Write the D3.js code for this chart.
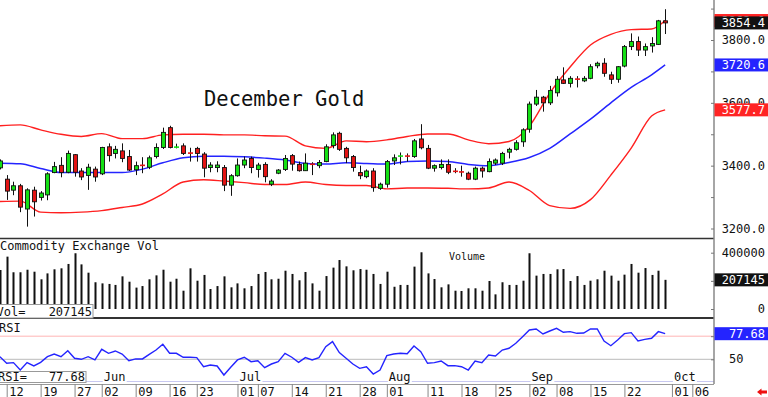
<!DOCTYPE html>
<html>
<head>
<meta charset="utf-8">
<script src="https://cdn.jsdelivr.net/npm/d3@7"></script>
<style>
body { margin: 0; background: #fff; }
svg { display: block; }
</style>
</head>
<body>
<script>
// trading calendar: weekdays from May 9 to Oct 6, minus exchange holidays
var holidays = ["2025-05-26", "2025-06-19", "2025-07-04", "2025-09-01"];
var fmt = d3.timeFormat("%Y-%m-%d");
var sessions = d3.timeDay.range(new Date(2025, 4, 9), new Date(2025, 9, 7))
    .filter(function(d) { return d.getDay() !== 0 && d.getDay() !== 6; })
    .map(fmt)
    .filter(function(d) { return holidays.indexOf(d) < 0; });

// daily OHLC, May 9 .. Sep 30
var open = [3393,3357,3322,3336,3262,3322,3299,3307,3378,3401,
    3379,3435,3383,3369,3389,3374,3460,3439,3447,3429,
    3387,3402,3395,3429,3458,3521,3458,3463,3441,3455,
    3437,3394,3394,3394,3338,3368,3402,3423,3388,3404,
    3341,3376,3388,3432,3404,3384,3406,3400,3413,3464,
    3503,3455,3429,3378,3365,3383,3328,3341,3415,3429,
    3432,3429,3485,3455,3392,3394,3404,3383,3381,3376,
    3357,3392,3381,3408,3408,3443,3452,3476,3516,3596,
    3618,3600,3632,3673,3662,3678,3670,3678,3718,3726,
    3689,3675,3717,3779,3795,3768,3781,3786,3861];
var high = [3420,3370,3349,3342,3328,3333,3319,3379,3412,3427,
    3448,3437,3392,3406,3397,3460,3471,3463,3471,3450,
    3413,3427,3432,3471,3521,3527,3470,3471,3457,3460,
    3443,3411,3414,3402,3373,3423,3429,3429,3409,3411,
    3357,3389,3434,3437,3413,3439,3411,3418,3468,3506,
    3508,3460,3434,3400,3388,3392,3346,3418,3436,3442,
    3439,3485,3532,3466,3404,3420,3420,3392,3400,3381,
    3397,3397,3423,3423,3444,3457,3481,3519,3604,3641,
    3622,3654,3685,3713,3685,3685,3685,3723,3731,3742,
    3699,3717,3784,3821,3811,3789,3809,3864,3898];
var low = [3388,3291,3306,3252,3206,3238,3289,3290,3376,3363,
    3376,3365,3354,3323,3349,3370,3413,3423,3411,3383,
    3370,3376,3389,3423,3453,3455,3455,3434,3413,3413,
    3363,3379,3379,3319,3304,3365,3392,3376,3362,3347,
    3335,3373,3383,3384,3381,3383,3370,3392,3411,3455,
    3447,3408,3381,3357,3360,3317,3323,3330,3402,3404,
    3413,3425,3452,3389,3381,3388,3373,3376,3365,3354,
    3354,3362,3379,3402,3402,3423,3448,3460,3505,3590,
    3572,3593,3620,3660,3649,3649,3666,3675,3710,3683,
    3660,3664,3713,3768,3749,3749,3760,3784,3819];
var close = [3415,3319,3336,3268,3323,3285,3313,3374,3397,3378,
    3439,3379,3364,3395,3364,3458,3432,3452,3423,3386,
    3400,3400,3425,3458,3506,3458,3460,3439,3439,3439,
    3392,3402,3402,3338,3368,3402,3418,3394,3402,3365,
    3351,3386,3423,3405,3384,3408,3403,3410,3460,3498,
    3452,3425,3394,3368,3383,3330,3341,3413,3425,3432,
    3429,3479,3457,3392,3400,3404,3379,3381,3379,3357,
    3392,3383,3413,3418,3439,3452,3473,3514,3596,3618,
    3600,3639,3675,3662,3678,3673,3678,3715,3726,3694,
    3675,3715,3779,3795,3768,3779,3789,3861,3854.4];

// volume, thousands of contracts
var volume = [277,372,261,261,279,265,211,253,282,289,
    320,396,317,258,190,182,178,171,232,194,
    152,163,211,239,279,194,215,130,289,201,
    242,142,163,232,154,182,147,163,249,263,
    211,215,272,249,204,263,182,130,234,294,
    348,303,275,284,279,249,178,265,158,171,
    171,301,403,253,213,154,175,130,128,147,
    147,130,199,104,190,171,171,201,396,237,
    249,249,282,284,199,234,171,201,211,272,
    237,201,244,320,258,291,242,272,207.145];

var rsi = [52.8,45.7,46.4,38.4,46.4,42.8,46.7,52.8,55.7,52.8,
    59.3,51.1,50,52.8,49.3,60.8,56.5,59,55.7,48.5,
    50.4,50.4,55.4,60,66.2,56.5,56.5,52.2,52.2,51.8,
    42,43.8,42.8,33,41.4,49.3,52.2,47.4,48.5,40.9,
    44.9,47.4,56.5,52.2,46.7,51.8,49.3,51.8,63.6,69.1,
    57.2,51.1,44.9,40.2,42,34.1,38.4,53.9,55.7,56.5,
    56.1,64.4,58.3,45.7,46.4,48.2,43.1,43.1,42,38.4,
    48.2,46.4,54.6,53.6,60,61.9,67.3,74.4,81.7,82.8,
    77.4,80.6,83.5,79.2,79.9,78.1,78.4,82.8,82.8,69.8,
    64.7,70.9,77.7,78.8,69.8,71.6,72.7,79.9,77.68];

// bollinger bands read every third session
var bandIdx = [0,3,6,9,12,15,18,21,24,27,30,33,36,39,42,45,48,51,54,57,60,63,66,69,72,75,78,81,84,87,90,93,96,98];
var bandUpper = [3527,3530,3514,3500,3493,3502,3486,3486,3498,3500,3500,3498,3498,3495,3494,3463,3455,3479,
    3476,3482,3493,3501,3501,3482,3470,3477,3526,3631,3714,3784,3818,3833,3835,3862];
var bandMid = [3408,3406,3391,3378,3378,3378,3378,3389,3409,3425,3430,3430,3428,3424,3418,3407,3405,3409,
    3407,3405,3413,3415,3413,3404,3400,3410,3426,3455,3501,3548,3600,3649,3689,3720.6];
var bandLower = [3286,3287,3252,3250,3252,3257,3267,3278,3310,3348,3355,3351,3346,3340,3340,3348,3340,3337,
    3337,3326,3329,3329,3328,3326,3329,3348,3321,3273,3264,3292,3370,3456,3558,3577.7];

var tickDates = ["2025-05-12","2025-05-19","2025-05-27","2025-06-02","2025-06-09","2025-06-16","2025-06-23",
    "2025-07-01","2025-07-07","2025-07-14","2025-07-21","2025-07-28","2025-08-01","2025-08-11","2025-08-18",
    "2025-08-25","2025-09-02","2025-09-08","2025-09-15","2025-09-22","2025-10-01","2025-10-06"];
var monthDates = ["2025-06-02","2025-07-01","2025-08-01","2025-09-02","2025-10-01"];
var monthNames = ["Jun","Jul","Aug","Sep","0ct"];
var priceTicks = [3200, 3400, 3600, 3800];

var FONT = "DejaVu Sans Mono, monospace";
var GREEN = "#14e014", RED = "#e41414", BLUE = "#2424ff";
var axisX = 714;

var svg = d3.select("body").append("svg")
    .attr("width", 768)
    .attr("height", 397)
    .attr("font-family", FONT);

var x = d3.scalePoint().domain(sessions).range([-0.1, 692.3]);
var yPrice = d3.scaleLinear().domain([3200, 3800]).range([228.5, 40]);
var yVol = d3.scaleLinear().domain([0, 400000]).range([309, 252.7]);
var yRsi = d3.scaleLinear().domain([50, 77.68]).range([359.3, 333.7]);

svg.append("clipPath").attr("id", "pc")
    .append("rect").attr("x", 0).attr("y", 0).attr("width", axisX).attr("height", 238);

// title
svg.append("text")
    .attr("x", 204).attr("y", 106)
    .attr("font-size", 20.5)
    .attr("fill", "#111")
    .text("December Gold");

// bands
var price = svg.append("g").attr("clip-path", "url(#pc)");
function bandLine(vals) {
    return d3.line()
        .x(function(d, i) { return x(sessions[bandIdx[i]]); })
        .y(function(d) { return yPrice(d); })
        .curve(d3.curveMonotoneX)(vals);
}
price.append("path").attr("d", bandLine(bandUpper)).attr("fill", "none").attr("stroke", "#ff2020").attr("stroke-width", 1.4);
price.append("path").attr("d", bandLine(bandLower)).attr("fill", "none").attr("stroke", "#ff2020").attr("stroke-width", 1.4);
price.append("path").attr("d", bandLine(bandMid)).attr("fill", "none").attr("stroke", BLUE).attr("stroke-width", 1.5);

// candles
var candles = price.selectAll(".candle")
    .data(close.map(function(c, i) { return i; }))
    .enter()
    .append("g")
        .attr("class", "candle");

candles.append("line")
    .attr("x1", function(i) { return Math.round(x(sessions[i])) + 0.5; })
    .attr("x2", function(i) { return Math.round(x(sessions[i])) + 0.5; })
    .attr("y1", function(i) { return yPrice(high[i]); })
    .attr("y2", function(i) { return yPrice(low[i]); })
    .attr("stroke", "#111")
    .attr("stroke-width", 1);

candles.each(function(i) {
    var g = d3.select(this);
    var cx = Math.round(x(sessions[i])) + 0.5;
    var top = yPrice(Math.max(open[i], close[i]));
    var bot = yPrice(Math.min(open[i], close[i]));
    var col = close[i] >= open[i] ? GREEN : RED;
    if (bot - top < 1.6) {
        g.append("rect")
            .attr("x", cx - 2.5).attr("y", (top + bot) / 2 - 0.8)
            .attr("width", 5).attr("height", 1.6)
            .attr("fill", col);
    } else {
        g.append("rect")
            .attr("x", cx - 2).attr("y", top)
            .attr("width", 4).attr("height", bot - top)
            .attr("fill", col)
            .attr("stroke", "#111")
            .attr("stroke-width", 0.9);
    }
});

// volume bars
svg.append("text").attr("x", 0).attr("y", 250).attr("font-size", 12).attr("fill", "#111")
    .text("Commodity Exchange Vol");
svg.append("text").attr("x", 449).attr("y", 260).attr("font-size", 10).attr("fill", "#111")
    .text("Volume");

svg.selectAll(".vol")
    .data(volume)
    .enter()
    .append("rect")
        .attr("class", "vol")
        .attr("x", function(d, i) { return Math.round(x(sessions[i])) - 0.5; })
        .attr("y", function(d) { return yVol(d * 1000); })
        .attr("width", 2)
        .attr("height", function(d) { return yVol(0) - yVol(d * 1000); })
        .attr("fill", "#111");

// RSI
svg.append("line").attr("x1", 0).attr("x2", axisX).attr("y1", yRsi(75)).attr("y2", yRsi(75))
    .attr("stroke", "#ffb4b4").attr("stroke-width", 1);
svg.append("line").attr("x1", 0).attr("x2", axisX).attr("y1", yRsi(50)).attr("y2", yRsi(50))
    .attr("stroke", "#c8c8c8").attr("stroke-width", 1.2);
svg.append("path")
    .attr("d", d3.line()
        .x(function(d, i) { return x(sessions[i]); })
        .y(function(d) { return yRsi(d); })(rsi))
    .attr("fill", "none")
    .attr("stroke", BLUE)
    .attr("stroke-width", 1.4);
svg.append("text").attr("x", -1).attr("y", 331.5).attr("font-size", 12).attr("fill", "#111").text("RSI");

// frame lines
svg.append("line").attr("x1", 0).attr("x2", axisX).attr("y1", 238.5).attr("y2", 238.5)
    .attr("stroke", "#333").attr("stroke-width", 1.6);
svg.append("line").attr("x1", 0).attr("x2", axisX).attr("y1", 318).attr("y2", 318)
    .attr("stroke", "#333").attr("stroke-width", 2);
svg.append("line").attr("x1", 0).attr("x2", axisX).attr("y1", 381.5).attr("y2", 381.5)
    .attr("stroke", "#c8c8f0").attr("stroke-width", 1);
svg.append("line").attr("x1", axisX).attr("x2", axisX).attr("y1", 0).attr("y2", 384)
    .attr("stroke", "#888").attr("stroke-width", 1.5);

// date axis
var dateAxis = svg.append("g")
    .attr("transform", "translate(0,384)")
    .call(d3.axisBottom(x).tickValues(tickDates).tickSize(13)
        .tickFormat(function(d) { return d.slice(8); }));
dateAxis.attr("font-family", FONT).attr("font-size", 12);
dateAxis.select(".domain").attr("d", "M0,0.5H" + axisX).attr("stroke", "#999");
dateAxis.selectAll(".tick line").attr("stroke", "#888");
dateAxis.selectAll(".tick text")
    .attr("text-anchor", "start")
    .attr("x", 2).attr("y", 11.5).attr("dy", 0)
    .attr("fill", "#111");

// month labels
var months = svg.selectAll(".month")
    .data(monthDates)
    .enter()
    .append("g")
        .attr("class", "month")
        .attr("transform", function(d) { return "translate(" + x(d) + ",0)"; });
months.append("rect").attr("x", 1).attr("y", 371.5).attr("width", 24).attr("height", 12).attr("fill", "#fff");
months.append("text").attr("x", 2).attr("y", 381).attr("font-size", 12).attr("fill", "#111")
    .text(function(d, i) { return monthNames[i]; });

// readout boxes bottom-left
svg.append("rect").attr("x", -1).attr("y", 304.5).attr("width", 94).attr("height", 13.5)
    .attr("fill", "#fff").attr("stroke", "#999");
svg.append("text").attr("x", -3.5).attr("y", 315.5).attr("font-size", 12).attr("fill", "#111").text("Vol=");
svg.append("text").attr("x", 92).attr("y", 315.5).attr("font-size", 12).attr("text-anchor", "end")
    .attr("fill", "#111").text(d3.format(".0f")(volume[volume.length - 1] * 1000));
svg.append("rect").attr("x", -1).attr("y", 371.5).attr("width", 87).attr("height", 11)
    .attr("fill", "#fff").attr("stroke", "#999");
svg.append("text").attr("x", -2).attr("y", 381).attr("font-size", 12).attr("fill", "#111").text("RSI=");
svg.append("text").attr("x", 85).attr("y", 381).attr("font-size", 12).attr("text-anchor", "end")
    .attr("fill", "#111").text(d3.format(".2f")(rsi[rsi.length - 1]));

// right axes
function rightLabels(scale, values, format, y0) {
    var g = svg.append("g")
        .attr("transform", "translate(765," + (y0 || 0) + ")")
        .call(d3.axisLeft(scale).tickValues(values).tickFormat(format).tickSize(0).tickPadding(0));
    g.select(".domain").remove();
    g.attr("font-family", FONT).attr("font-size", 12);
    g.selectAll("text").attr("fill", "#111");
    return g;
}
function minorTicks(scale, values) {
    var g = svg.append("g")
        .attr("transform", "translate(" + axisX + ",0)")
        .call(d3.axisLeft(scale).tickValues(values).tickSize(3).tickFormat(""));
    g.select(".domain").remove();
    g.selectAll("line").attr("stroke", "#777");
}
rightLabels(yPrice, priceTicks, d3.format(".1f"));
minorTicks(yPrice, d3.range(3200, 3901, 100));
rightLabels(yVol, [0, 400000], d3.format(".0f"));
minorTicks(yVol, [0, 200000, 400000]);
minorTicks(yRsi, [50, 75]);
svg.append("text").attr("x", 729).attr("y", yRsi(50) + 4).attr("font-size", 12).attr("fill", "#111").text("50");

function valueBox(yc, fill, label) {
    svg.append("rect").attr("x", axisX + 0.5).attr("y", yc - 6.5).attr("width", 54).attr("height", 13).attr("fill", fill);
    svg.append("text").attr("x", 765).attr("y", yc + 4.3).attr("font-size", 12)
        .attr("text-anchor", "end").attr("fill", "#fff").text(label);
}
var last = close.length - 1;
valueBox(yPrice(bandUpper[bandUpper.length - 1]), "#ff2424", d3.format(".1f")(bandUpper[bandUpper.length - 1]));
valueBox(yPrice(close[last]), "#111", d3.format(".1f")(close[last]));
valueBox(yPrice(bandMid[bandMid.length - 1]), BLUE, d3.format(".1f")(bandMid[bandMid.length - 1]));
valueBox(yPrice(bandLower[bandLower.length - 1]), "#ff2424", d3.format(".1f")(bandLower[bandLower.length - 1]));
valueBox(yVol(volume[last] * 1000), "#111", d3.format(".0f")(volume[last] * 1000));
valueBox(yRsi(rsi[last]), BLUE, d3.format(".2f")(rsi[last]));

// scroll arrow
svg.append("path")
    .attr("d", "M757,392 L761.5,388.5 L761.5,390.5 L767,390.5 L767,393.5 L761.5,393.5 L761.5,395.5 Z")
    .attr("fill", "#ee1010");
</script>
</body>
</html>
